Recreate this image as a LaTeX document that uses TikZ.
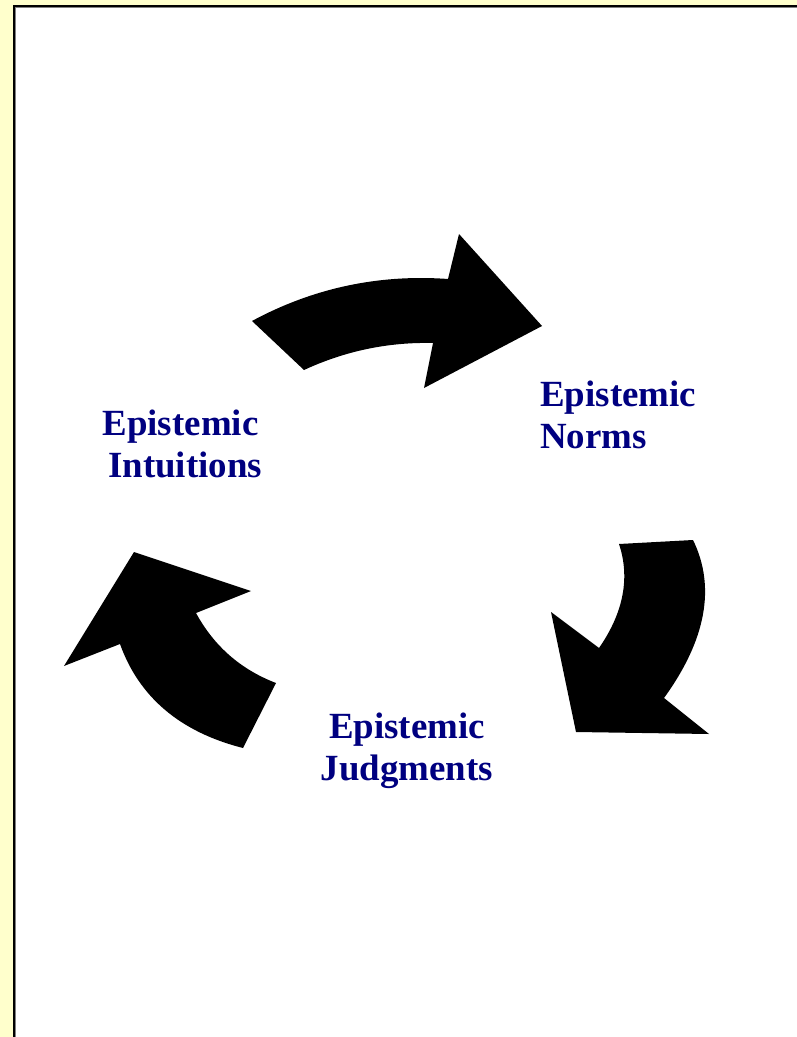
\documentclass[tikz,border=0pt]{standalone}
\usepackage{fontspec}
\setmainfont{Liberation Serif}
\definecolor{framebg}{RGB}{255,255,204}
\definecolor{labelblue}{RGB}{0,0,128}

\begin{document}
\begin{tikzpicture}[x=0.02cm, y=-0.02cm,
    cyclearrow/.style={fill=black, draw=none},
    stage/.style={text=labelblue, font=\fontsize{21}{24}\selectfont\bfseries, inner sep=0pt}]
    \useasboundingbox (0, 0) rectangle (797, 1037);

    \fill[framebg] (0, 0) rectangle (797, 1037);
    \fill[white] (15, 7) rectangle (797, 1037);
    \draw[black, line width=1.1pt] (14.2, 1037) -- (14.2, 6) -- (797, 6);
    \draw[gray, line width=0.5pt] (15.8, 1037) -- (15.8, 7.5) -- (797, 7.5);

    % top arrow
    \fill[cyclearrow] (252, 321) .. controls (313, 288) and (379, 274) .. (448, 279)
        -- (459, 234) -- (542, 326) -- (424, 388) -- (433, 343)
        .. controls (388, 342) and (345, 351) .. (304, 370) -- cycle;
    % right arrow
    \fill[cyclearrow] (619, 544) -- (693, 540) .. controls (716, 587) and (706, 640) .. (664, 698)
        -- (709, 734) -- (576, 732) -- (551, 612) -- (599, 648)
        .. controls (624, 612) and (630, 577) .. (619, 544) -- cycle;
    % left arrow
    \fill[cyclearrow] (134, 552) -- (251, 591) -- (196, 613)
        .. controls (214, 646) and (240.5, 669.4) .. (276, 683) -- (243, 748)
        .. controls (180, 732) and (139, 697) .. (120, 644) -- (64, 666) -- cycle;

    \node[stage, align=center] (intuitions) at (180.5, 444) {Epistemic\\~Intuitions};
    \node[stage, align=left, anchor=west] (norms) at (540, 415) {Epistemic\\Norms};
    \node[stage, align=center] (judgments) at (407, 751) {Epistemic\\Judgments};
\end{tikzpicture}
\end{document}
